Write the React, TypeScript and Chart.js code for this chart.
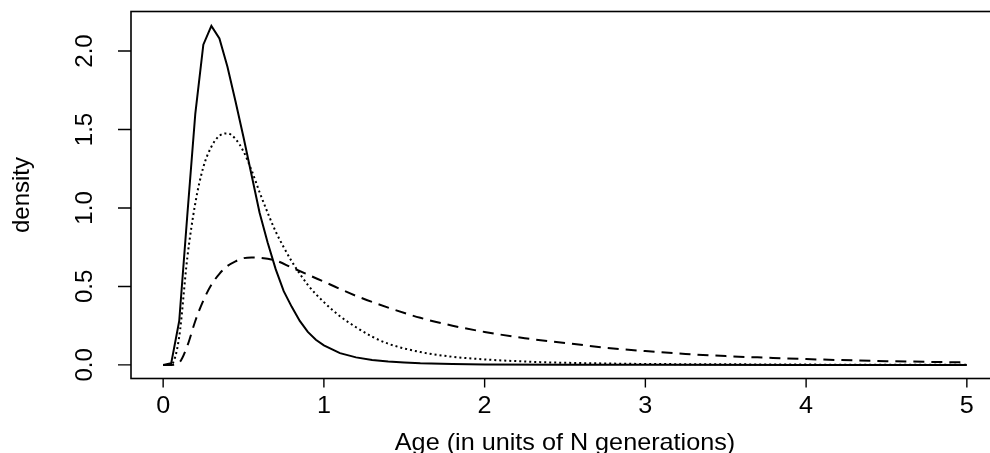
import React, { useEffect, useRef } from "react";
import { Chart, registerables } from "chart.js";

Chart.register(...registerables);

// ---- data ----
const solidAge = [0, 0.05, 0.1, 0.15, 0.2, 0.25, 0.3, 0.35, 0.4, 0.45, 0.5, 0.55, 0.6, 0.65, 0.7, 0.75, 0.8, 0.85, 0.9, 0.95, 1.0, 1.1, 1.2, 1.3, 1.4, 1.5, 1.6, 1.8, 2.0, 2.5, 3.0, 4.0, 5.0];
const solidDensity = [0, 0.01, 0.28, 0.95, 1.6, 2.04, 2.16, 2.08, 1.9, 1.68, 1.45, 1.21, 0.97, 0.78, 0.61, 0.47, 0.37, 0.28, 0.21, 0.16, 0.125, 0.075, 0.048, 0.032, 0.022, 0.015, 0.01, 0.005, 0.003, 0.001, 0.0005, 0.0002, 0.0001];

const dottedAge = [0, 0.05, 0.1, 0.15, 0.2, 0.25, 0.3, 0.35, 0.4, 0.45, 0.5, 0.55, 0.6, 0.65, 0.7, 0.75, 0.8, 0.9, 1.0, 1.1, 1.2, 1.3, 1.4, 1.6, 1.8, 2.0, 2.2, 2.4, 2.7, 3.0, 3.5, 4.0, 4.5, 5.0];
const dottedDensity = [0, 0.003, 0.18, 0.68, 1.03, 1.26, 1.39, 1.46, 1.475, 1.44, 1.36, 1.24, 1.1, 0.97, 0.85, 0.75, 0.66, 0.51, 0.4, 0.31, 0.24, 0.18, 0.135, 0.082, 0.052, 0.035, 0.024, 0.016, 0.01, 0.006, 0.004, 0.002, 0.001, 0.001];

const dashedAge = [0, 0.05, 0.1, 0.15, 0.2, 0.25, 0.3, 0.35, 0.4, 0.45, 0.5, 0.55, 0.6, 0.7, 0.8, 0.9, 1.0, 1.2, 1.4, 1.6, 1.8, 2.0, 2.25, 2.5, 2.75, 3.0, 3.25, 3.5, 3.75, 4.0, 4.5, 5.0];
const dashedDensity = [0, 0, 0.015, 0.12, 0.28, 0.41, 0.51, 0.58, 0.63, 0.66, 0.68, 0.685, 0.683, 0.665, 0.62, 0.575, 0.53, 0.44, 0.365, 0.3, 0.25, 0.21, 0.17, 0.14, 0.11, 0.088, 0.07, 0.056, 0.046, 0.037, 0.024, 0.016];

const xTicks = [0, 1, 2, 3, 4, 5];
const xTickLabels = ["0", "1", "2", "3", "4", "5"];
const yTicks = [0, 0.5, 1, 1.5, 2];
const yTickLabels = ["0.0", "0.5", "1.0", "1.5", "2.0"];
const xTitle = "Age (in units of N generations)";
const yTitle = "density";

const FONT = '"Liberation Sans", Arial, Helvetica, sans-serif';
const STRETCH = 1.05;

const toPts = (xs: number[], ys: number[]) => xs.map((x, i) => ({ x, y: ys[i] }));

const rAxesPlugin = {
  id: "rAxes",
  afterDraw(chart: any) {
    const { ctx, chartArea, scales } = chart;
    const xs = scales.x;
    const ys = scales.y;
    ctx.save();
    ctx.strokeStyle = "#000";
    ctx.lineWidth = 1.6;
    ctx.strokeRect(chartArea.left, chartArea.top, chartArea.right - chartArea.left, chartArea.bottom - chartArea.top);
    ctx.beginPath();
    xTicks.forEach((v) => {
      const px = xs.getPixelForValue(v);
      ctx.moveTo(px, chartArea.bottom);
      ctx.lineTo(px, chartArea.bottom + 9);
    });
    yTicks.forEach((v) => {
      const py = ys.getPixelForValue(v);
      ctx.moveTo(chartArea.left, py);
      ctx.lineTo(chartArea.left - 13, py);
    });
    ctx.lineWidth = 1.4;
    ctx.stroke();

    ctx.fillStyle = "#000";
    ctx.font = `24px ${FONT}`;
    ctx.textAlign = "center";
    ctx.textBaseline = "alphabetic";
    const hText = (t: string, x: number, y: number) => {
      ctx.save();
      ctx.translate(x, y);
      ctx.scale(STRETCH, 1);
      ctx.fillText(t, 0, 0);
      ctx.restore();
    };
    const vText = (t: string, x: number, y: number) => {
      ctx.save();
      ctx.translate(x, y);
      ctx.rotate(-Math.PI / 2);
      ctx.fillText(t, 0, 0);
      ctx.restore();
    };
    xTicks.forEach((v, i) => hText(xTickLabels[i], xs.getPixelForValue(v), 413));
    yTicks.forEach((v, i) => vText(yTickLabels[i], 92, ys.getPixelForValue(v)));
    hText(xTitle, (chartArea.left + chartArea.right) / 2, 450);
    vText(yTitle, 29, (chartArea.top + chartArea.bottom) / 2);
    ctx.restore();
  },
};

export default function App() {
  const ref = useRef<HTMLCanvasElement | null>(null);
  useEffect(() => {
    if (!ref.current) return;
    const chart = new Chart(ref.current, {
      type: "line",
      data: {
        datasets: [
          {
            data: toPts(solidAge, solidDensity),
            borderColor: "#000",
            borderWidth: 2,
            pointRadius: 0,
            tension: 0,
            fill: false,
          },
          {
            data: toPts(dottedAge, dottedDensity),
            borderColor: "#000",
            borderWidth: 2,
            borderDash: [2, 3],
            pointRadius: 0,
            cubicInterpolationMode: "monotone",
            fill: false,
          },
          {
            data: toPts(dashedAge, dashedDensity),
            borderColor: "#000",
            borderWidth: 2,
            borderDash: [11, 7],
            pointRadius: 0,
            cubicInterpolationMode: "monotone",
            fill: false,
          },
        ],
      },
      options: {
        responsive: false,
        animation: false,
        parsing: false as any,
        layout: { padding: { left: 131, top: 11.5, right: 11, bottom: 74.5 } },
        plugins: { legend: { display: false }, tooltip: { enabled: false } },
        scales: {
          x: { type: "linear", min: -0.2, max: 5.2, display: false },
          y: { type: "linear", min: -0.0866, max: 2.2516, display: false },
        },
      },
      plugins: [rAxesPlugin],
    });
    return () => chart.destroy();
  }, []);
  return (
    <div style={{ position: "absolute", left: 0, top: 0, width: 990, height: 453, overflow: "hidden", background: "#fff" }}>
      <canvas ref={ref} width={1010} height={453} style={{ display: "block", width: 1010, height: 453 }} />
    </div>
  );
}
